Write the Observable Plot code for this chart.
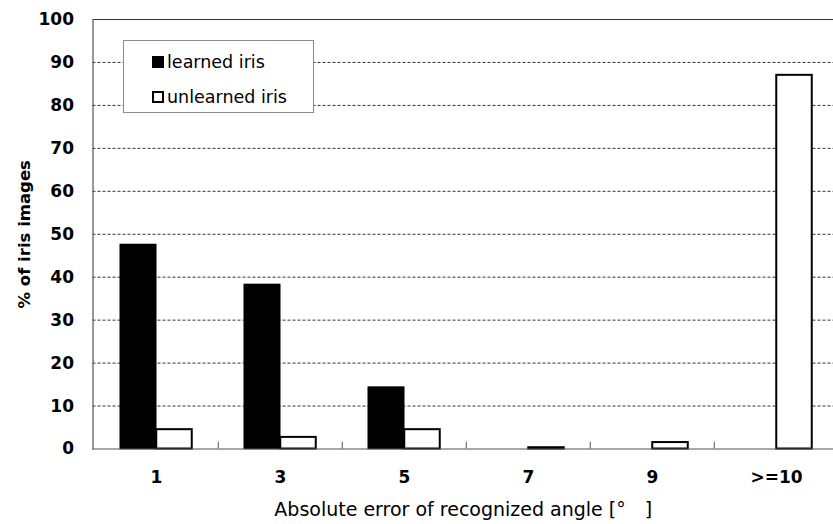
<!DOCTYPE html>
<html>
<head>
<meta charset="utf-8">
<script src="https://cdn.jsdelivr.net/npm/d3@7"></script>
<script src="https://cdn.jsdelivr.net/npm/@observablehq/plot@0.6"></script>
<style>
  html, body { margin: 0; padding: 0; background: #fff; overflow: hidden; }
  #wrap { position: relative; width: 833px; height: 524px; overflow: hidden; }
  #legend {
    position: absolute; left: 123px; top: 40px; width: 189px; height: 71px;
    border: 1px solid #8c8c8c; background: #fff;
    font-family: "DejaVu Sans", sans-serif; font-size: 17.5px; color: #000;
  }
  .item { position: absolute; left: 28px; display: flex; align-items: center; height: 20px; }
  .sw { width: 12px; height: 12px; box-sizing: border-box; margin-right: 3px; }
</style>
</head>
<body>
<div id="wrap">
  <div id="chart"></div>
  <div id="legend"></div>
</div>
<script>
const categories = ["1", "3", "5", "7", "9", ">=10"];
const seriesNames = ["learned iris", "unlearned iris"];
const learned = [47.5, 38.2, 14.3, 0, 0, 0];
const unlearned = [4.5, 2.7, 4.5, 0.3, 1.5, 87.0];
const yTicks = [0, 10, 20, 30, 40, 50, 60, 70, 80, 90, 100];
const gridTicks = [10, 20, 30, 40, 50, 60, 70, 80, 90];

const learnedData = categories.map((c, i) => ({cat: c, v: learned[i]}));
const unlearnedData = categories.map((c, i) => ({cat: c, v: unlearned[i]}));

const xStart = 92.5, xEnd = 839.5;
const band = (xEnd - xStart) / categories.length;
const barW = 36;
const inset = (band - barW) / 2;

const font = '"DejaVu Sans", sans-serif';

const plot = Plot.plot({
  width: 833,
  height: 524,
  marginLeft: 92.5,
  marginRight: 0,
  marginTop: 19,
  marginBottom: 75.5,
  style: {fontFamily: font, background: "#fff", color: "#000"},
  x: {domain: categories, range: [xStart, xEnd], padding: 0},
  y: {domain: [0, 100]},
  marks: [
    Plot.ruleY(gridTicks, {stroke: "#333", strokeWidth: 1, strokeDasharray: "3,2"}),
    Plot.ruleY([100], {stroke: "#333", strokeWidth: 1.2}),
    Plot.barY(learnedData, {x: "cat", y: "v", dx: -barW / 2, insetLeft: inset, insetRight: inset,
      fill: "#000", stroke: "#000", strokeWidth: 1.5}),
    Plot.barY(unlearnedData, {x: "cat", y: "v", dx: barW / 2, insetLeft: inset, insetRight: inset,
      fill: "#fff", stroke: "#000", strokeWidth: 2}),
    Plot.ruleX(categories.slice(1), {x: d => d, dx: -band / 2, y1: 0, y2: 1.6, stroke: "#555", strokeWidth: 1}),
    Plot.ruleY([0], {stroke: "#555", strokeWidth: 1.2}),
    Plot.frame({anchor: "left", stroke: "#555", strokeWidth: 1.2}),
    Plot.axisY(yTicks, {tickSize: 0, tickPadding: 19, fontSize: 17, fontWeight: "bold",
      label: "% of iris images", labelAnchor: "center", labelArrow: "none", labelOffset: 75}),
    Plot.axisX({tickSize: 0, tickPadding: 22, fontSize: 17, fontWeight: "bold",
      label: "Absolute error of recognized angle [°\u2003]", labelAnchor: "center", labelArrow: "none", labelOffset: 67})
  ]
});
document.getElementById("chart").appendChild(plot);

// style axis labels
d3.select(plot).selectAll("g[aria-label='y-axis label'] text").attr("font-weight", "bold").attr("font-size", 16.5);
d3.select(plot).selectAll("g[aria-label='x-axis label'] text").attr("font-weight", "normal").attr("font-size", 19);

// legend
const legend = document.getElementById("legend");
const swatches = [
  {bg: "#000", border: "1px solid #000"},
  {bg: "#fff", border: "2px solid #000"}
];
seriesNames.forEach((name, i) => {
  const item = document.createElement("div");
  item.className = "item";
  item.style.top = (i === 0 ? 11 : 46) + "px";
  const sw = document.createElement("div");
  sw.className = "sw";
  sw.style.background = swatches[i].bg;
  sw.style.border = swatches[i].border;
  const t = document.createElement("span");
  t.textContent = name;
  item.appendChild(sw);
  item.appendChild(t);
  legend.appendChild(item);
});
</script>
</body>
</html>
